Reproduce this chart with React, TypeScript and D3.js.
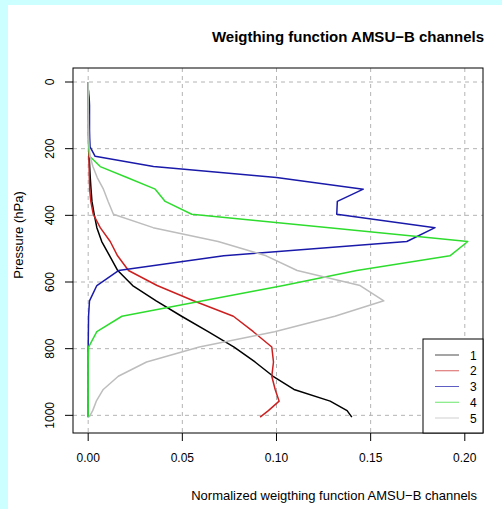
import React from 'react';
import * as d3 from 'd3';

// RTTOV pressure levels (hPa)
const pressureLevels = [
  0.1, 0.29, 0.69, 1.42, 2.611, 4.407, 6.95, 10.37, 14.81, 20.4, 27.26, 35.51, 45.29, 56.73,
  69.97, 85.18, 102.05, 122.04, 143.84, 167.95, 194.36, 222.94, 253.71, 286.6, 321.5, 358.28,
  396.81, 436.95, 478.54, 521.46, 565.54, 610.6, 656.43, 702.73, 749.12, 795.09, 839.95, 882.8,
  922.46, 957.44, 985.88, 1005.43,
];

const channel1 = [
  0, 0, 0, 0, 0, 0, 0, 0, 0, 0, 0, 0, 0, 0.0001,
  0.0001, 0.0002, 0.0002, 0.0003, 0.0003, 0.0004, 0.0004, 0.0005, 0.0008, 0.0011, 0.0015, 0.002,
  0.0032, 0.0046, 0.0072, 0.0114, 0.0157, 0.0236, 0.0361, 0.0496, 0.0637, 0.0775, 0.0886, 0.0982,
  0.1093, 0.1285, 0.1375, 0.14,
];
const channel2 = [
  0, 0, 0, 0, 0, 0, 0, 0, 0, 0, 0, 0, 0, 0.0001,
  0.0001, 0.0001, 0.0002, 0.0002, 0.0002, 0.0003, 0.0003, 0.0004, 0.0005, 0.0006, 0.0008, 0.0014,
  0.0027, 0.0064, 0.0117, 0.0156, 0.0214, 0.0366, 0.0559, 0.0771, 0.0877, 0.0975, 0.0984, 0.0975,
  0.0993, 0.1014, 0.0957, 0.0913,
];
const channel3 = [
  0, 0, 0, 0, 0, 0, 0, 0, 0, 0, 0.0002, 0.0003, 0.0005, 0.0006,
  0.0007, 0.0007, 0.0007, 0.0007, 0.0007, 0.0008, 0.001, 0.0037, 0.0347, 0.1, 0.1461, 0.1323,
  0.132, 0.1842, 0.1692, 0.072, 0.0161, 0.0046, 0.0007, 0.0002, 0.0001, 0, 0, 0,
  0, 0, 0, 0,
];
const channel4 = [
  0, 0, 0, 0, 0, 0, 0, 0, 0, 0, 0, 0, 0, 0,
  0, 0, 0, 0, 0, 0, 0.0002, 0.0008, 0.0064, 0.0206, 0.0356, 0.0409,
  0.055, 0.128, 0.2016, 0.1921, 0.1426, 0.1037, 0.061, 0.0179, 0.0046, 0.0002, 0, 0,
  0, 0, 0, 0,
];
const channel5 = [
  0, 0, 0, 0, 0, 0, 0, 0, 0, 0, 0, 0, 0, 0,
  0, 0, 0.0001, 0.0001, 0.0002, 0.0003, 0.0005, 0.001, 0.0025, 0.0048, 0.0081, 0.0106,
  0.0134, 0.0345, 0.069, 0.0945, 0.111, 0.1444, 0.157, 0.131, 0.099, 0.059, 0.031, 0.016,
  0.008, 0.0043, 0.0024, 0.0005,
];

const channelNames = ['1', '2', '3', '4', '5'];
const channelValues = [channel1, channel2, channel3, channel4, channel5];
const xTicks = [0, 0.05, 0.1, 0.15, 0.2];
const yTicks = [0, 200, 400, 600, 800, 1000];

const colors = ['#000000', '#cc2020', '#1a1aaa', '#2edc2e', '#bdbdbd'];

const W = 502;
const H = 509;
const margin = { left: 73, right: 483, top: 68, bottom: 433 };
const font = '"Liberation Sans", Arial, Helvetica, sans-serif';

export default function App() {
  // R style 4% padding on x
  const xMax = d3.max(channelValues.flat()) || 0.2;
  const pad = xMax * 0.04;
  const x = d3.scaleLinear().domain([-pad, xMax + pad]).range([margin.left, margin.right]);
  const y = d3.scaleLinear().domain([-42, 1053]).range([margin.top, margin.bottom]);

  const line = d3
    .line<[number, number]>()
    .x(d => x(d[0]))
    .y(d => y(d[1]));

  const legendRows = d3.scaleLinear().domain([0, 4]).range([355, 418]);

  return (
    <svg width={W} height={H} style={{ position: 'absolute', left: 0, top: 0 }} fontFamily={font}>
      <rect x={0} y={0} width={W} height={H} fill="#ccffff" />
      <rect x={8} y={5} width={W - 8} height={H - 5} fill="#ffffff" />

      <text x={484} y={42} textAnchor="end" fontSize={15} fontWeight="bold">
        Weigthing function AMSU−B channels
      </text>

      {/* grid */}
      {xTicks.map(t => (
        <line key={'gx' + t} x1={x(t)} x2={x(t)} y1={margin.top} y2={margin.bottom}
          stroke="#b4b4b4" strokeDasharray="4,4" />
      ))}
      {yTicks.map(t => (
        <line key={'gy' + t} x1={margin.left} x2={margin.right} y1={y(t)} y2={y(t)}
          stroke="#b4b4b4" strokeDasharray="4,4" />
      ))}

      {channelValues.map((vals, i) => (
        <path
          key={'c' + i}
          d={line(vals.map((v, j) => [v, pressureLevels[j]] as [number, number])) || ''}
          fill="none"
          stroke={colors[i]}
          strokeWidth={1.5}
          strokeLinejoin="round"
        />
      ))}

      <rect x={margin.left} y={margin.top} width={margin.right - margin.left}
        height={margin.bottom - margin.top} fill="none" stroke="#000" />

      {/* x axis */}
      {xTicks.map(t => (
        <g key={'xt' + t}>
          <line x1={x(t)} x2={x(t)} y1={margin.bottom} y2={margin.bottom + 8} stroke="#000" />
          <text x={x(t)} y={462} textAnchor="middle" fontSize={12}>{t.toFixed(2)}</text>
        </g>
      ))}
      {/* y axis */}
      {yTicks.map(t => (
        <g key={'yt' + t}>
          <line x1={margin.left - 8} x2={margin.left} y1={y(t)} y2={y(t)} stroke="#000" />
          <text transform={`translate(54,${y(t)}) rotate(-90)`} textAnchor="middle" fontSize={12}>{t}</text>
        </g>
      ))}

      <text x={477} y={500} textAnchor="end" fontSize={13}>
        Normalized weigthing function AMSU−B channels
      </text>
      <text transform="translate(23,235) rotate(-90)" textAnchor="middle" fontSize={13}>
        Pressure (hPa)
      </text>

      {/* legend */}
      <rect x={423} y={339} width={60} height={94} fill="#fff" stroke="#000" />
      {channelNames.map((n, i) => (
        <g key={'lg' + n}>
          <line x1={435} x2={459} y1={legendRows(i)} y2={legendRows(i)} stroke={colors[i]}
            strokeWidth={1} opacity={0.7} />
          <text x={470} y={legendRows(i) + 4.5} fontSize={12}>{n}</text>
        </g>
      ))}
    </svg>
  );
}
